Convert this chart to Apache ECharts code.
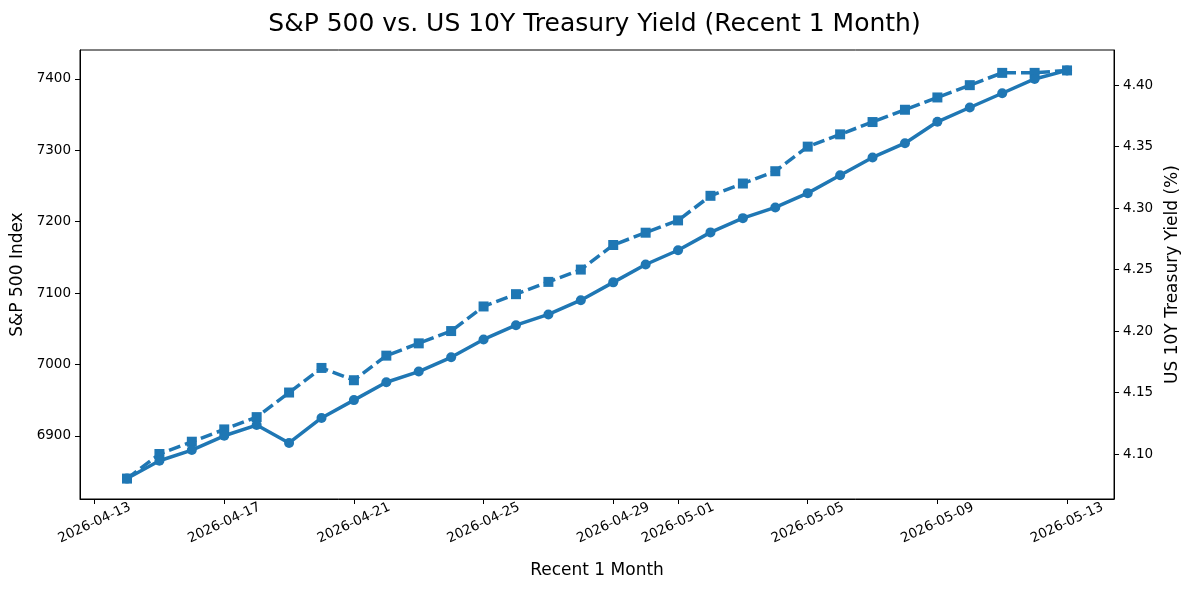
<!DOCTYPE html>
<html>
<head>
<meta charset="utf-8">
<script src="https://cdn.jsdelivr.net/npm/echarts@6/dist/echarts.min.js"></script>
<style>
  html, body { margin: 0; padding: 0; background: #fff; }
  #chart { width: 1189px; height: 590px; }
</style>
</head>
<body>
<div id="chart"></div>
<script>
'use strict';

// daily closes, 2026-04-14 .. 2026-05-13
const dates = [
    '2026-04-14', '2026-04-15', '2026-04-16', '2026-04-17', '2026-04-18',
    '2026-04-19', '2026-04-20', '2026-04-21', '2026-04-22', '2026-04-23',
    '2026-04-24', '2026-04-25', '2026-04-26', '2026-04-27', '2026-04-28',
    '2026-04-29', '2026-04-30', '2026-05-01', '2026-05-02', '2026-05-03',
    '2026-05-04', '2026-05-05', '2026-05-06', '2026-05-07', '2026-05-08',
    '2026-05-09', '2026-05-10', '2026-05-11', '2026-05-12', '2026-05-13'
];
const spx = [
    6840, 6865, 6880, 6900, 6915, 6890, 6925, 6950, 6975, 6990,
    7010, 7035, 7055, 7070, 7090, 7115, 7140, 7160, 7185, 7205,
    7220, 7240, 7265, 7290, 7310, 7340, 7360, 7380, 7400, 7412
];
const yield10y = [
    4.08, 4.10, 4.11, 4.12, 4.13, 4.15, 4.17, 4.16, 4.18, 4.19,
    4.20, 4.22, 4.23, 4.24, 4.25, 4.27, 4.28, 4.29, 4.31, 4.32,
    4.33, 4.35, 4.36, 4.37, 4.38, 4.39, 4.40, 4.41, 4.41, 4.412
];
const xTicks = [
    '2026-04-13', '2026-04-17', '2026-04-21', '2026-04-25', '2026-04-29',
    '2026-05-01', '2026-05-05', '2026-05-09', '2026-05-13'
];
const spxTicks = [6900, 7000, 7100, 7200, 7300, 7400];
const yieldTicks = [4.10, 4.15, 4.20, 4.25, 4.30, 4.35, 4.40];

// dates -> UTC ms, so the x axis can be a plain value axis
let toTime = function (s) {
    let p = s.split('-').map(Number);
    return Date.UTC(p[0], p[1] - 1, p[2]);
};
let fmtDate = function (v) {
    let d = new Date(Math.round(v));
    let two = n => (n < 10 ? '0' : '') + n;
    return d.getUTCFullYear() + '-' + two(d.getUTCMonth() + 1) + '-' + two(d.getUTCDate());
};
let pad = function (lo, hi) {
    let m = (hi - lo) * 0.05;
    return [lo - m, hi + m];
};

let xRange = pad(toTime(dates[0]), toTime(dates[dates.length - 1]));
let spxRange = pad(Math.min(...spx), Math.max(...spx));
let yRange = pad(Math.min(...yield10y), Math.max(...yield10y));

const blue = '#1f77b4';
const font = 'DejaVu Sans';

let myChart = echarts.init(document.getElementById('chart'));
let option = {
    backgroundColor: '#fff',
    animation: false,
    textStyle: { fontFamily: font },
    title: {
        text: 'S&P 500 vs. US 10Y Treasury Yield (Recent 1 Month)',
        left: 'center',
        top: 7,
        textStyle: { fontFamily: font, fontSize: 25, fontWeight: 'normal', color: '#000' }
    },
    grid: { left: 80, right: 73, top: 50, bottom: 91, show: true, borderColor: '#000', borderWidth: 1 },
    xAxis: {
        type: 'value',
        min: xRange[0],
        max: xRange[1],
        name: 'Recent 1 Month',
        nameLocation: 'middle',
        nameGap: 63,
        nameTextStyle: { fontFamily: font, fontSize: 17, color: '#000' },
        axisLine: { show: true, onZero: false, lineStyle: { color: '#000' } },
        axisTick: { show: true, length: 5, lineStyle: { color: '#000' }, customValues: xTicks.map(toTime) },
        axisLabel: {
            customValues: xTicks.map(toTime),
            rotate: 25,
            margin: 24,
            align: 'center',
            verticalAlign: 'middle',
            fontFamily: font,
            fontSize: 13.5,
            color: '#000',
            formatter: fmtDate
        },
        splitLine: { show: false }
    },
    yAxis: [{
        type: 'value',
        min: spxRange[0],
        max: spxRange[1],
        name: 'S&P 500 Index',
        nameLocation: 'middle',
        nameGap: 52,
        nameTextStyle: { fontFamily: font, fontSize: 17, color: '#000' },
        axisLine: { show: true, lineStyle: { color: '#000' } },
        axisTick: { show: true, length: 5, lineStyle: { color: '#000' }, customValues: spxTicks },
        axisLabel: {
            customValues: spxTicks, margin: 9, fontFamily: font, fontSize: 13.5, color: '#000',
            formatter: function (v) { return String(Math.round(v)); }
        },
        splitLine: { show: false }
    }, {
        type: 'value',
        position: 'right',
        min: yRange[0],
        max: yRange[1],
        name: 'US 10Y Treasury Yield (%)',
        nameLocation: 'middle',
        nameGap: 42,
        nameTextStyle: { fontFamily: font, fontSize: 17, color: '#000' },
        axisLine: { show: true, lineStyle: { color: '#000' } },
        axisTick: { show: true, length: 5, lineStyle: { color: '#000' }, customValues: yieldTicks },
        axisLabel: {
            customValues: yieldTicks, margin: 9, fontFamily: font, fontSize: 13.5, color: '#000',
            formatter: function (v) { return v.toFixed(2); }
        },
        splitLine: { show: false }
    }],
    series: [{
        name: 'S&P 500',
        type: 'line',
        yAxisIndex: 0,
        data: dates.map((d, i) => [toTime(d), spx[i]]),
        symbol: 'circle',
        symbolSize: 10,
        lineStyle: { color: blue, width: 3.5 },
        itemStyle: { color: blue },
        z: 3
    }, {
        name: 'US 10Y',
        type: 'line',
        yAxisIndex: 1,
        data: dates.map((d, i) => [toTime(d), yield10y[i]]),
        symbol: 'rect',
        symbolSize: 10,
        lineStyle: { color: blue, width: 3.5, type: [12, 5] },
        itemStyle: { color: blue },
        z: 2
    }]
};
myChart.setOption(option);
</script>
</body>
</html>
